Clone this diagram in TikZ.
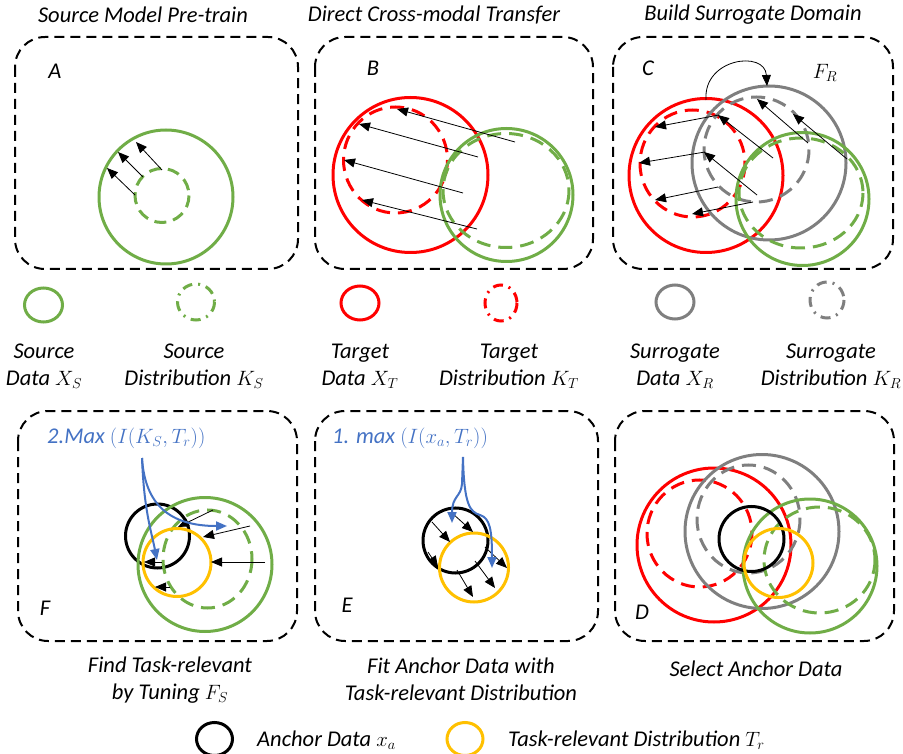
\documentclass[tikz,border=0pt]{standalone}
\usepackage{fontspec}
\setmainfont{Carlito}
\usetikzlibrary{arrows.meta}
\definecolor{cgreen}{HTML}{70AD47}
\definecolor{cred}{HTML}{FF0000}
\definecolor{cgray}{HTML}{7F7F7F}
\definecolor{corange}{HTML}{FFC000}
\definecolor{cblue}{HTML}{4472C4}
\begin{document}
\begin{tikzpicture}[x=1pt,y=-1pt,
  txt/.style={font=\fontsize{22.5}{27}\selectfont\itshape, inner sep=0pt, align=center},
  panel/.style={draw=black, line width=2pt, dash pattern=on 10pt off 6pt, rounded corners=30pt},
  solidc/.style={line width=3pt},
  dashc/.style={line width=3pt, dash pattern=on 14pt off 8pt},
  dotc/.style={line width=3pt, dash pattern=on 10pt off 6pt on 2pt off 6pt},
  arr/.style={-{Triangle[length=11pt,width=9pt]}, line width=0.8pt},
  barr/.style={-{Triangle[length=11pt,width=9pt]}, line width=2pt, draw=cblue},
]
\useasboundingbox (0,0) rectangle (903,754);

% ---------- titles ----------
\node[txt] (tA) at (143,15) {Source Model Pre-train};
\node[txt] (tB) at (434,15) {Direct Cross-modal Transfer};
\node[txt] (tC) at (753,15) {Build Surrogate Domain};

% ---------- panel boxes ----------
\draw[panel] (15,37) rectangle (298,269);
\draw[panel] (315,37) rectangle (593,269);
\draw[panel] (613,37) rectangle (893,269);
\draw[panel] (18,411) rectangle (297,641);
\draw[panel] (315,411) rectangle (598,641);
\draw[panel] (615,411) rectangle (894,641);

\node[txt] (lA) at (55,71) {A};
\node[txt] (lB) at (373,68) {B};
\node[txt] (lC) at (648,68) {C};
\node[txt] (lFR) at (825,73) {$F_R$};
\node[txt] (lF) at (45,608) {F};
\node[txt] (lE) at (347,605) {E};
\node[txt] (lD) at (642,612) {D};

% ---------- panel A ----------
\draw[solidc, cgreen] (166,197) circle (67);
\draw[dashc, cgreen, dash pattern=on 12pt off 7pt] (162,195.5) circle (27);
\draw[arr] (135,195) -- (107,168);
\draw[arr] (143,177) -- (118,152);
\draw[arr] (162,170) -- (136,142);

% ---------- panel B ----------
\draw[solidc, cred] (410.5,175) circle (77.5);
\draw[dashc, cred] (395.5,160) ellipse (52 and 53);
\draw[solidc, cgreen] (506.5,195) circle (66.5);
\draw[dashc, cgreen] (506,190.5) ellipse (63 and 57);
\draw[arr] (515,142) -- (397,109);
\draw[arr] (478,157) -- (359,124);
\draw[arr] (463,193) -- (344,160);
\draw[arr] (477,229) -- (362,200);

% ---------- panel C ----------
\draw[solidc, cred] (706,175.5) circle (77);
\draw[dashc, cred] (692.5,163.5) ellipse (52.5 and 53.5);
\draw[solidc, cgray] (769,163) circle (77);
\draw[dashc, cgray] (756.5,149.5) ellipse (52.5 and 52.5);
\draw[solidc, cgreen] (802.5,199) circle (66.5);
\draw[dashc, cgreen] (801,193) ellipse (62 and 55);
\draw[arr] (706,100) .. controls (703,58) and (765,50) .. (767,86);
\draw[arr] (719,115) -- (655,127);
\draw[arr] (705,152) -- (639,163);
\draw[arr] (718,187) -- (655,200);
\draw[arr] (753,202) -- (692,214);
\draw[arr] (773,158) -- (718,115);
\draw[arr] (757,195) -- (704,152);
\draw[arr] (808,143) -- (757,99);
\draw[arr] (847,159) -- (793,114);

% ---------- legend row ----------
\draw[solidc, cgreen] (43.5,305) ellipse (19 and 17);
\draw[dotc, cgreen] (196,302) ellipse (18.5 and 18);
\draw[solidc, cred] (360,303) ellipse (19 and 17);
\draw[dotc, cred] (501,303) ellipse (16 and 18);
\draw[solidc, cgray] (675,302) ellipse (19 and 17);
\draw[dotc, cgray] (827,300) ellipse (17 and 18);

\node[txt] (gs) at (44,366) {Source\\Data $X_S$};
\node[txt] (gks) at (194,366) {Source\\Distribution $K_S$};
\node[txt] (gt) at (360,366) {Target\\Data $X_T$};
\node[txt] (gkt) at (509,366) {Target\\Distribution $K_T$};
\node[txt] (gr) at (675,366) {Surrogate\\Data $X_R$};
\node[txt] (gkr) at (831,366) {Surrogate\\Distribution $K_R$};

% ---------- panel F ----------
\node[txt, text=cblue, anchor=west] (mF) at (47,438) {2.Max $(I(K_S,T_r))$};
\draw[solidc, black] (157.5,536) circle (32);
\draw[solidc, cgreen] (205,564.5) circle (67);
\draw[dashc, cgreen] (207.5,559) ellipse (44.5 and 49);
\draw[solidc, corange] (177,562.5) circle (34);
\draw[arr] (213,510) -- (178,527);
\draw[arr] (250,526) -- (203,537);
\draw[arr] (265,562) -- (211,562);
\draw[arr] (162,562) -- (144,562);
\draw[arr] (170,587) -- (155,587);
\draw[barr] (142,458) .. controls (144,510) and (151,530) .. (157,560);
\draw[barr] (142,458) .. controls (145,505) and (170,526) .. (227,526);
\node[txt] (cF) at (170,680) {Find Task-relevant\\by Tuning $F_S$};

% ---------- panel E ----------
\node[txt, text=cblue, anchor=west] (mE) at (332,438) {1. max $(I(x_a,T_r))$};
\draw[solidc, black] (455.5,540.5) circle (32.5);
\draw[solidc, corange] (474,567.5) circle (34.5);
\draw[arr] (432,522) -- (450,542);
\draw[arr] (452,513) -- (473,532);
\draw[arr] (428,552) -- (438,567);
\draw[arr] (485,547) -- (507,568);
\draw[arr] (457,570) -- (473,597);
\draw[arr] (475,561) -- (495,588);
\draw[barr] (463,457) -- (462,484) .. controls (461,497) and (452,496) .. (452,523);
\draw[barr] (463,457) .. controls (464,505) and (470,512) .. (480,515) .. controls (490,518) and (492,530) .. (492,568);
\node[txt] (cE) at (461,679) {Fit Anchor Data with\\Task-relevant Distribution};

% ---------- panel D ----------
\draw[solidc, cred] (714,545) circle (77);
\draw[dashc, cred] (699.5,533.5) ellipse (52.5 and 53.5);
\draw[solidc, cgray] (762,531.5) circle (77);
\draw[dashc, cgray] (748.5,519) ellipse (51.5 and 54);
\draw[solidc, cgreen] (810,566) circle (67);
\draw[dashc, cgreen] (819.5,560) ellipse (55.5 and 53);
\draw[solidc, black] (751.5,539) circle (32.5);
\draw[solidc, corange] (778.5,563) circle (34.5);
\node[txt] (cD) at (756,669) {Select Anchor Data};

% ---------- bottom legend ----------
\draw[solidc, black] (214.5,739) ellipse (18 and 16.5);
\node[txt, anchor=west] (la) at (257,740) {Anchor Data $x_a$};
\draw[solidc, corange] (465,739) ellipse (18 and 16.5);
\node[txt, anchor=west] (lt) at (508,740) {Task-relevant Distribution $T_r$};
\end{tikzpicture}
\end{document}
